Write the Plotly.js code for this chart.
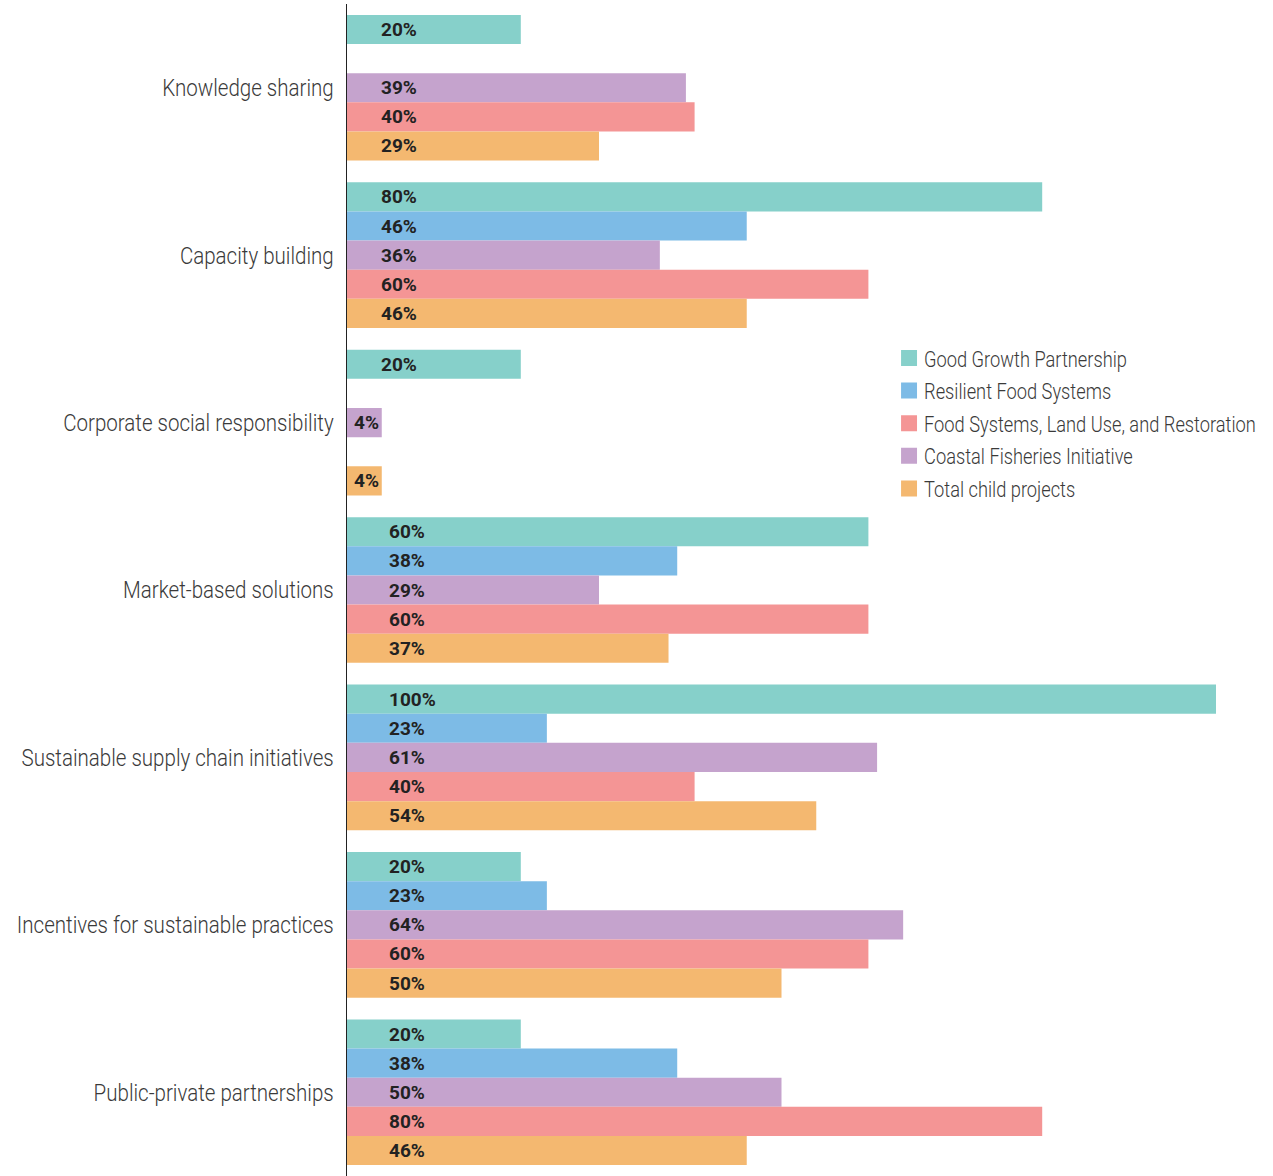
<!DOCTYPE html>
<html>
<head>
<meta charset="utf-8">
<script src="https://cdn.plot.ly/plotly-3.0.1.min.js"></script>
<style>
html,body{margin:0;padding:0;background:#fff;}
#chart{width:1273px;height:1176px;}
</style>
</head>
<body>
<div id="chart"></div>
<script>
const categories = [
  "Knowledge sharing",
  "Capacity building",
  "Corporate social responsibility",
  "Market-based solutions",
  "Sustainable supply chain initiatives",
  "Incentives for sustainable practices",
  "Public-private partnerships"
];
const goodGrowth    = [20, 80, 20, 60, 100, 20, 20];
const resilientFood = [null, 46, null, 38, 23, 23, 38];
const coastalFish   = [39, 36, 4, 29, 61, 64, 50];
const foodSystems   = [40, 60, null, 60, 40, 60, 80];
const totalChild    = [29, 46, 4, 37, 54, 50, 46];

const seriesNames = [
  "Good Growth Partnership",
  "Resilient Food Systems",
  "Coastal Fisheries Initiative",
  "Food Systems, Land Use, and Restoration",
  "Total child projects"
];
const seriesValues = [goodGrowth, resilientFood, coastalFish, foodSystems, totalChild];
const seriesColors = ["#86D0CA", "#7DBBE6", "#C5A3CD", "#F49595", "#F4B870"];
const legendRanks = [1, 2, 4, 3, 5];

const FONT = 'Roboto, "Liberation Sans", sans-serif';
const bargap = 0.13;
const nSeries = seriesValues.length;

const traces = seriesValues.map((vals, i) => ({
  type: 'bar',
  orientation: 'h',
  name: seriesNames[i],
  legendgroup: 'g' + i,
  y: categories,
  x: vals,
  marker: {color: seriesColors[i], line: {width: 0}},
  legendrank: legendRanks[i],
  hoverinfo: 'x+name'
}));

// value labels drawn as annotations at each bar's slot
const annotations = [];
const slot = (1 - bargap) / nSeries;
seriesValues.forEach((vals, i) => {
  vals.forEach((v, c) => {
    if (v === null || v === undefined) return;
    const yPos = c - (1 - bargap) / 2 + slot * (i + 0.5);
    let xPos = c < 3 ? 3.7 : 4.6;
    if (v < 10) xPos = 0.55;
    annotations.push({
      x: xPos, y: yPos, xref: 'x', yref: 'y',
      text: v + '%', showarrow: false, xanchor: 'left', yanchor: 'middle',
      font: {family: FONT, size: 19, color: '#222222', weight: 'bold'}
    });
  });
});

const layout = {
  width: 1273,
  height: 1176,
  margin: {l: 347, r: 57, t: 4, b: 0, autoexpand: false},
  paper_bgcolor: '#ffffff',
  plot_bgcolor: '#ffffff',
  barmode: 'group',
  bargap: bargap,
  bargroupgap: 0,
  showlegend: true,
  legend: {
    x: 0.618, y: 0.7157, xanchor: 'left', yanchor: 'top',
    traceorder: 'grouped',
    tracegroupgap: 1,
    font: {family: FONT, size: 22, color: '#3a3a3a', weight: 300},
    bgcolor: 'rgba(0,0,0,0)'
  },
  xaxis: {
    range: [0, 100],
    showgrid: false, zeroline: false, showline: false,
    showticklabels: false, ticks: ''
  },
  yaxis: {
    type: 'category',
    autorange: 'reversed',
    showgrid: false, zeroline: false,
    showline: true, linecolor: '#222222', linewidth: 1.5,
    ticks: '', ticklabelstandoff: 7,
    tickfont: {family: FONT, size: 24, color: '#3a3a3a', weight: 300}
  },
  annotations: annotations
};

// narrow the glyphs horizontally to imitate the condensed face of the original
function condense(gd, selector, scale) {
  gd.querySelectorAll(selector).forEach(t => {
    const w = t.getComputedTextLength();
    if (w > 0) {
      t.setAttribute('textLength', (w * scale).toFixed(1));
      t.setAttribute('lengthAdjust', 'spacingAndGlyphs');
    }
  });
}

Plotly.newPlot('chart', traces, layout, {displayModeBar: false, staticPlot: true}).then(gd => {
  condense(gd, '.ytick text', 0.855);
  condense(gd, '.legend text.legendtext', 0.83);
  // slightly larger legend swatches, as in the original
  gd.querySelectorAll('.legend .legendpoints path').forEach(p => {
    const prev = p.getAttribute('transform') || '';
    p.setAttribute('transform', prev + ' translate(5,0) scale(1.33)');
  });
});
</script>
</body>
</html>
